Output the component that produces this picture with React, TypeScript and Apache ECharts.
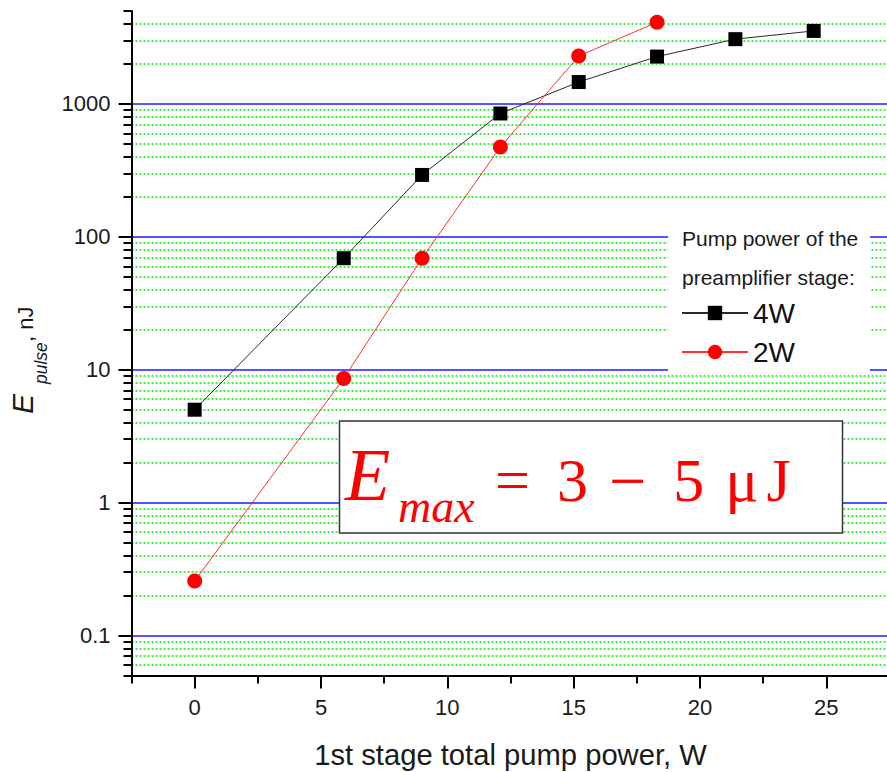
import React, { useEffect, useRef } from 'react';
import * as echarts from 'echarts';

const pumpPower4W = [0, 5.9, 9.0, 12.1, 15.2, 18.3, 21.4, 24.5];
const energy4W = [5, 69, 292, 847, 1460, 2270, 3070, 3540];
const pumpPower2W = [0, 5.9, 9.0, 12.1, 15.2, 18.3];
const energy2W = [0.257, 8.6, 69, 474, 2290, 4120];

const yMajorTicks = [0.1, 1, 10, 100, 1000];
const yMinorTicks = [
  0.05, 0.06, 0.07, 0.08, 0.09,
  0.2, 0.3, 0.4, 0.5, 0.6, 0.7, 0.8, 0.9,
  2, 3, 4, 5, 6, 7, 8, 9,
  20, 30, 40, 50, 60, 70, 80, 90,
  200, 300, 400, 500, 600, 700, 800, 900,
  2000, 3000, 4000, 5000,
];
const xMajorTicks = [0, 5, 10, 15, 20, 25];
const xMinorTicks = [-2.5, 2.5, 7.5, 12.5, 17.5, 22.5, 27.5];

const seriesNames = ['4W', '2W'];
const legendHeader = 'Pump power of the\npreamplifier stage:';
const xTitle = '1st stage total pump power, W';

const SANS = '"Liberation Sans", Arial, sans-serif';
const SERIF = '"Liberation Serif", "Times New Roman", serif';

export default function App() {
  const ref = useRef<HTMLDivElement>(null);
  useEffect(() => {
    if (!ref.current) return;
    const chart = echarts.init(ref.current, null, { renderer: 'svg' });
    const yMin = 0.05;
    const yMax = 5000;
    const xMin = -2.5;
    const xMax = 27.5;
    const rot = Math.PI / 2;
    const option: any = {
      animation: false,
      backgroundColor: '#ffffff',
      grid: {
        left: 131.5,
        top: 11,
        width: 758,
        height: 664.5,
        containLabel: false,
        outerBoundsMode: 'none',
      },
      xAxis: [
        {
          type: 'value',
          min: xMin,
          max: xMax,
          position: 'bottom',
          name: xTitle,
          nameLocation: 'middle',
          nameGap: 65,
          nameTextStyle: { fontSize: 29.2, color: '#1a1a1a', fontFamily: SANS },
          axisLine: { show: true, onZero: false, lineStyle: { color: '#000', width: 2 } },
          axisTick: { show: true, inside: false, length: 13, customValues: xMajorTicks, lineStyle: { color: '#000', width: 2 } },
          axisLabel: { show: true, customValues: xMajorTicks, margin: 21, fontSize: 22, color: '#1a1a1a', fontFamily: SANS },
          splitLine: { show: false },
        },
        {
          type: 'value',
          min: xMin,
          max: xMax,
          position: 'bottom',
          axisLine: { show: false, onZero: false },
          axisTick: { show: true, inside: false, length: 8, customValues: xMinorTicks, lineStyle: { color: '#000', width: 2 } },
          axisLabel: { show: false },
          splitLine: { show: false },
        },
      ],
      yAxis: [
        {
          type: 'log',
          logBase: 10,
          min: yMin,
          max: yMax,
          position: 'left',
          axisLine: { show: true, onZero: false, lineStyle: { color: '#000', width: 2 } },
          axisTick: { show: true, inside: false, length: 13, customValues: yMajorTicks, lineStyle: { color: '#000', width: 2 } },
          axisLabel: {
            show: true,
            customValues: yMajorTicks,
            margin: 21,
            fontSize: 22,
            color: '#1a1a1a',
            fontFamily: SANS,
            formatter: (v: number) => String(v),
          },
          splitLine: { show: true, lineStyle: { color: '#1a1aff', width: 1.5, type: 'solid' } },
        },
        {
          type: 'log',
          logBase: 10,
          min: yMin,
          max: yMax,
          position: 'left',
          axisLine: { show: false, onZero: false },
          axisTick: { show: true, inside: false, length: 8, customValues: yMinorTicks, lineStyle: { color: '#000', width: 2 } },
          axisLabel: { show: false },
          splitLine: {
            show: true,
            showMinLine: false,
            showMaxLine: false,
            lineStyle: { color: '#00ee00', width: 1.5, type: [2, 2] },
          },
        },
      ],
      legend: {
        show: true,
        data: seriesNames,
        orient: 'vertical',
        left: 681,
        top: 299,
        padding: 0,
        itemWidth: 66,
        itemHeight: 18,
        itemGap: 11,
        selectedMode: false,
        z: 6,
        textStyle: { fontSize: 28, color: '#111', fontFamily: SANS, lineHeight: 28 },
      },
      series: [
        {
          name: seriesNames[0],
          type: 'line',
          xAxisIndex: 0,
          yAxisIndex: 0,
          data: pumpPower4W.map((x, i) => [x, energy4W[i]]),
          symbol: 'rect',
          symbolSize: 14,
          itemStyle: { color: '#000000' },
          lineStyle: { color: '#2a2a2a', width: 1 },
          z: 3,
        },
        {
          name: seriesNames[1],
          type: 'line',
          xAxisIndex: 0,
          yAxisIndex: 0,
          data: pumpPower2W.map((x, i) => [x, energy2W[i]]),
          symbol: 'circle',
          symbolSize: 15,
          itemStyle: { color: '#ff0000' },
          lineStyle: { color: '#ff3030', width: 1 },
          z: 3,
        },
      ],
      graphic: [
        {
          type: 'rect',
          z: 5,
          shape: { x: 668, y: 224, width: 202, height: 149 },
          style: { fill: '#ffffff' },
        },
        {
          type: 'text',
          z: 7,
          x: 682,
          y: 219,
          style: {
            text: legendHeader,
            fill: '#1a1a1a',
            fontSize: 21,
            fontFamily: SANS,
            lineHeight: 39,
            align: 'left',
            verticalAlign: 'top',
          },
        },
        {
          type: 'text',
          z: 7,
          x: 22.6,
          y: 414,
          rotation: rot,
          style: { text: 'E', fill: '#1a1a1a', fontSize: 30, fontStyle: 'italic', fontFamily: SANS, align: 'left', verticalAlign: 'middle' },
        },
        {
          type: 'text',
          z: 7,
          x: 41,
          y: 384,
          rotation: rot,
          style: { text: 'pulse', fill: '#1a1a1a', fontSize: 17.5, fontStyle: 'italic', fontFamily: SANS, align: 'left', verticalAlign: 'middle' },
        },
        {
          type: 'text',
          z: 7,
          x: 25.4,
          y: 342,
          rotation: rot,
          style: { text: ', nJ', fill: '#1a1a1a', fontSize: 22, fontFamily: SANS, align: 'left', verticalAlign: 'middle' },
        },
        {
          type: 'rect',
          z: 10,
          shape: { x: 339.5, y: 421, width: 503, height: 112 },
          style: { fill: '#ffffff', stroke: '#333333', lineWidth: 1.5 },
        },
        {
          type: 'text',
          z: 11,
          x: 345,
          y: 475.2,
          style: { text: 'E', fill: '#ff0000', fontSize: 74, fontStyle: 'italic', fontFamily: SERIF, align: 'left', verticalAlign: 'middle' },
        },
        {
          type: 'text',
          z: 11,
          x: 398,
          y: 506.8,
          style: { text: 'max', fill: '#ff0000', fontSize: 46, fontStyle: 'italic', fontFamily: SERIF, align: 'left', verticalAlign: 'middle' },
        },
        {
          type: 'text',
          z: 11,
          x: 495,
          y: 480,
          style: {
            text: '{a|=}{b|3}{c|−}{d|5}{e|μ}{f|J}',
            align: 'left',
            verticalAlign: 'middle',
            fill: '#ff0000',
            fontSize: 62,
            fontFamily: SERIF,
            rich: {
              a: { fontSize: 62, fontFamily: SERIF, fill: '#ff0000' },
              b: { fontSize: 62, fontFamily: SERIF, fill: '#ff0000', padding: [0, 0, 0, 27] },
              c: { fontSize: 66, fontFamily: SERIF, fill: '#ff0000', padding: [0, 0, 0, 21] },
              d: { fontSize: 62, fontFamily: SERIF, fill: '#ff0000', padding: [0, 0, 0, 27] },
              e: { fontSize: 62, fontFamily: SERIF, fill: '#ff0000', padding: [0, 0, 0, 21] },
              f: { fontSize: 62, fontFamily: SERIF, fill: '#ff0000', padding: [0, 0, 0, 8] },
            },
          },
        },
      ],
    };
    chart.setOption(option);
    return () => {
      chart.dispose();
    };
  }, []);
  return (
    <div
      ref={ref}
      style={{ position: 'absolute', left: 0, top: 0, width: 887, height: 772, background: '#fff' }}
    />
  );
}
